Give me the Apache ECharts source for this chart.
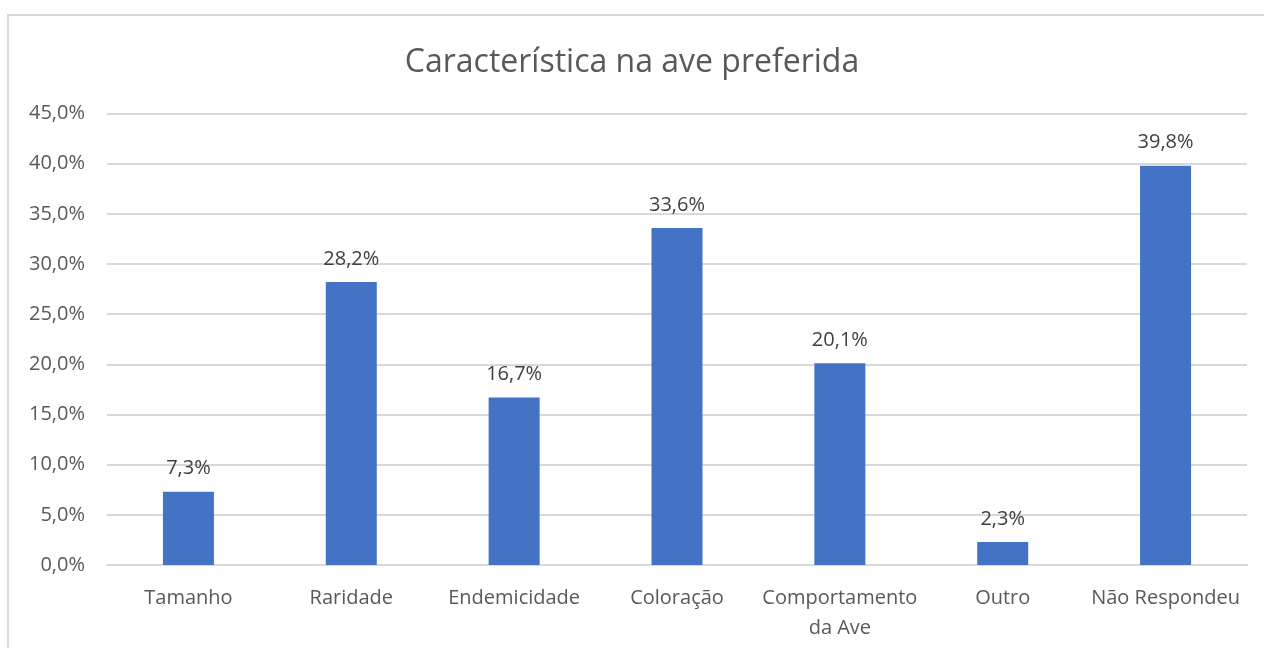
<!DOCTYPE html>
<html>
<head>
<meta charset="utf-8">
<script src="https://cdn.jsdelivr.net/npm/echarts@6/dist/echarts.min.js"></script>
<style>
  html, body { margin: 0; padding: 0; background: #fff; overflow: hidden; }
  #frame { position: absolute; left: 7px; top: 14px; width: 1300px; height: 700px; border: 2px solid #d9d9d9; box-sizing: border-box; }
  #main { position: absolute; left: 0; top: 0; width: 1264px; height: 648px; }
</style>
</head>
<body>
<div id="frame"></div>
<div id="main"></div>
<script>
// dados do gráfico
let categorias = ['Tamanho', 'Raridade', 'Endemicidade', 'Coloração', 'Comportamento\nda Ave', 'Outro', 'Não Respondeu'];
let valores = [7.3, 28.2, 16.7, 33.6, 20.1, 2.3, 39.8];
let titulo = 'Característica na ave preferida';

let fonte = '"Open Sans", "Noto Sans", sans-serif';
let chart = echarts.init(document.getElementById('main'));

function pct(v) {
    return v.toFixed(1).replace('.', ',') + '%';
}

chart.setOption({
    animation: false,
    title: {
        text: titulo,
        left: 'center',
        top: 42,
        textStyle: { fontFamily: fonte, fontSize: 32, fontWeight: 'normal', color: '#595959' }
    },
    grid: { left: 107, right: 17, top: 113.5, bottom: 83 },
    xAxis: {
        type: 'category',
        data: categorias,
        axisLine: { lineStyle: { color: '#d9d9d9', width: 2 } },
        axisTick: { show: false },
        axisLabel: { fontFamily: fonte, fontSize: 20, color: '#595959', margin: 18, lineHeight: 30, interval: 0 }
    },
    yAxis: {
        type: 'value',
        min: 0,
        max: 45,
        interval: 5,
        axisLine: { show: false },
        axisTick: { show: false },
        splitLine: { lineStyle: { color: '#d9d9d9', width: 2 } },
        axisLabel: { fontFamily: fonte, fontSize: 20, color: '#595959', margin: 22, formatter: pct }
    },
    series: [{
        type: 'bar',
        data: valores,
        barWidth: 51,
        itemStyle: { color: '#4472c4' },
        label: {
            show: true,
            position: 'top',
            distance: 13,
            fontFamily: fonte,
            fontSize: 20,
            color: '#404040',
            formatter: function (p) { return pct(p.value); }
        }
    }]
});
</script>
</body>
</html>
